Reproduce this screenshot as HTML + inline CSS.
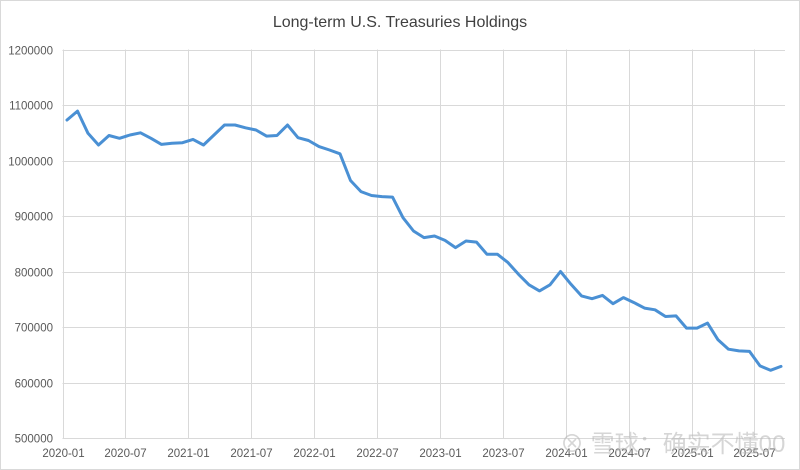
<!DOCTYPE html>
<html><head><meta charset="utf-8">
<style>
html,body{margin:0;padding:0;background:#fff;}
svg{display:block;font-family:"Liberation Sans","Noto Sans CJK SC",sans-serif;}
</style></head>
<body>
<svg id="chart" width="800" height="470" viewBox="0 0 800 470">
<rect x="0.5" y="0.5" width="799" height="469" fill="#fff" stroke="#d9d9d9"/>
<text x="400" y="27" text-anchor="middle" font-size="16" fill="#404040">Long-term U.S. Treasuries Holdings</text>
<g id="grid"></g>
<g id="yticks"></g>
<g id="xticks"></g>
<g id="series"></g>
<text x="560" y="452" font-size="24" fill="#bbb" opacity="0.6">⊗ 雪球：确实不懂00</text>
</svg>
<script>
const values = [1073000,1089000,1049000,1028000,1045000,1040000,1046000,1050000,1040000,1029000,1031000,1032000,1038000,1028000,1046000,1064000,1064000,1059000,1055000,1044000,1045000,1064000,1041000,1036000,1025000,1019000,1012000,964000,944000,937000,935000,934000,897000,873000,861000,864000,856000,843000,855000,853000,831000,831000,816000,795000,776000,765000,776000,800000,777000,756000,751000,757000,742000,753000,744000,734000,731000,719000,720000,698000,698000,707000,677000,660000,657000,656000,630000,622000,629000];
const startYear = 2020, startMonth = 1;
const yTicks = [500000,600000,700000,800000,900000,1000000,1100000,1200000];
const xTickLabels = ["2020-01","2020-07","2021-01","2021-07","2022-01","2022-07","2023-01","2023-07","2024-01","2024-07","2025-01","2025-07"];

const NS="http://www.w3.org/2000/svg";
const L=62.5,R=785,T=49.5,B=438;
const yMin=500000,yMax=1200000;
function yS(v){return B-(v-yMin)/(yMax-yMin)*(B-T);}
function xS(i){return 67+i*10.5;}
function xTick(k){return L+k*62.9;}
function mk(tag,attrs,parent){const e=document.createElementNS(NS,tag);for(const k in attrs)e.setAttribute(k,attrs[k]);parent.appendChild(e);return e;}
const grid=document.getElementById('grid'),yt=document.getElementById('yticks'),xt=document.getElementById('xticks'),ser=document.getElementById('series');
yTicks.forEach(v=>{
  const y=Math.round(yS(v))+0.5;
  const ln=mk('line',{x1:L,x2:R,y1:y,y2:y,stroke:'#d9d9d9','stroke-width':1},grid);
  
  
  const t=mk('text',{x:53,y:y+4,'text-anchor':'end','font-size':11.5,fill:'#595959'},yt);
  t.textContent=v;
  
  
});
xTickLabels.forEach((lab,k)=>{
  const x=Math.round(xTick(k))+0.5;
  const ln=mk('line',{x1:x,x2:x,y1:T,y2:B,stroke:'#d9d9d9','stroke-width':1},grid);
  
  
  const t=mk('text',{x:x,y:457,'text-anchor':'middle','font-size':11.5,fill:'#595959'},xt);
  t.textContent=lab;
  
  
});
const pts=values.map((v,i)=>xS(i).toFixed(1)+','+yS(v).toFixed(1)).join(' ');
const pl=mk('polyline',{points:pts,fill:'none',stroke:'#4a90d4','stroke-width':3,'stroke-linejoin':'round','stroke-linecap':'round'},ser);


</script>
</body></html>
